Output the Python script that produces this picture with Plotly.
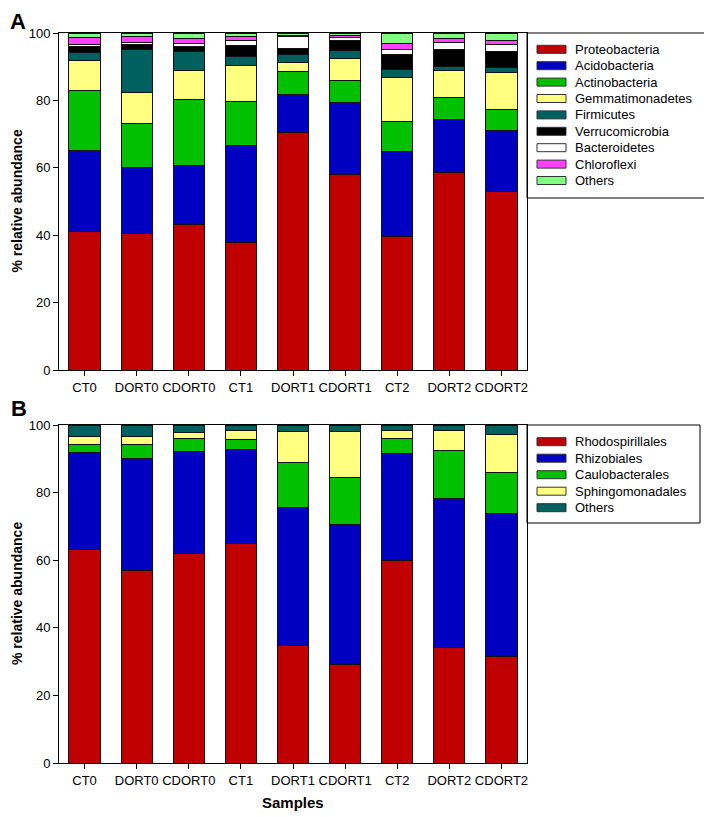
import plotly.graph_objects as go

samples = ["CT0", "DORT0", "CDORT0", "CT1", "DORT1", "CDORT1", "CT2", "DORT2", "CDORT2"]

# Panel A: phyla (% relative abundance)
proteobacteria   = [41.2, 40.5, 43.3, 37.8, 70.5, 58.1, 39.5, 58.7, 52.9]
acidobacteria    = [24.0, 19.5, 17.4, 28.8, 11.4, 21.3, 25.3, 15.6, 18.2]
actinobacteria   = [17.6, 13.2, 19.7, 13.2, 6.6, 6.4, 8.9, 6.7, 6.3]
gemmatimonadetes = [8.9, 9.1, 8.4, 10.5, 2.8, 6.7, 13.0, 7.8, 10.9]
firmicutes       = [2.6, 12.8, 5.7, 2.7, 2.2, 2.2, 2.6, 1.4, 1.4]
verrucomicrobia  = [1.6, 1.6, 1.6, 3.2, 1.8, 3.2, 4.2, 4.9, 4.8]
bacteroidetes    = [0.8, 0.4, 0.8, 1.7, 3.7, 0.7, 1.6, 2.0, 2.1]
chloroflexi      = [2.0, 2.0, 1.5, 1.2, 0.4, 0.8, 1.8, 1.3, 1.3]
others_a         = [1.3, 0.9, 1.6, 0.9, 0.6, 0.6, 3.1, 1.6, 2.1]

# Panel B: orders (% relative abundance)
rhodospirillales = [63.2, 57.1, 61.9, 64.9, 34.9, 29.0, 59.8, 34.3, 31.4]
rhizobiales      = [28.7, 33.0, 30.4, 27.9, 40.7, 41.7, 31.8, 44.0, 42.5]
caulobacterales  = [2.2, 4.2, 3.8, 3.0, 13.4, 13.9, 4.5, 14.2, 12.1]
sphingomonadales = [2.4, 2.2, 1.6, 2.7, 9.2, 13.4, 2.4, 6.0, 11.2]
others_b         = [3.5, 3.5, 2.3, 1.5, 1.8, 2.0, 1.5, 1.5, 2.8]

series_a = [
    ("Proteobacteria", proteobacteria, "#C00000"),
    ("Acidobacteria", acidobacteria, "#0000C0"),
    ("Actinobacteria", actinobacteria, "#00C000"),
    ("Gemmatimonadetes", gemmatimonadetes, "#FFFF80"),
    ("Firmicutes", firmicutes, "#006060"),
    ("Verrucomicrobia", verrucomicrobia, "#000000"),
    ("Bacteroidetes", bacteroidetes, "#FFFFFF"),
    ("Chloroflexi", chloroflexi, "#FF40FF"),
    ("Others", others_a, "#80FF80"),
]
series_b = [
    ("Rhodospirillales", rhodospirillales, "#C00000"),
    ("Rhizobiales", rhizobiales, "#0000C0"),
    ("Caulobacterales", caulobacterales, "#00C000"),
    ("Sphingomonadales", sphingomonadales, "#FFFF80"),
    ("Others", others_b, "#006060"),
]

OFF = 8  # page body margin
W, H = 712 - OFF, 817 - OFF
L, R, T, B = 59 - OFF, 1, 33 - OFF, 54
pw = W - L - R
ph = H - T - B


def px_x(p):
    return (p - OFF - L) / pw


def px_y(p):
    return (H - B - (p - OFF)) / ph


xend = px_x(527)
a_bottom = px_y(370)
b_top = px_y(425)

FONT = "Arial, Liberation Sans, sans-serif"

fig = go.Figure()
for name, vals, col in series_a:
    fig.add_trace(go.Bar(x=samples, y=vals, name=name,
                         marker=dict(color=col, line=dict(color="#111111", width=1)),
                         width=0.6, xaxis="x", yaxis="y", showlegend=False))
for name, vals, col in series_b:
    fig.add_trace(go.Bar(x=samples, y=vals, name=name,
                         marker=dict(color=col, line=dict(color="#111111", width=1)),
                         width=0.6, xaxis="x2", yaxis="y2", showlegend=False))

xcommon = dict(range=[-0.49, 8.49], showline=True, linecolor="black", linewidth=1, mirror=True,
               ticks="outside", ticklen=5, tickcolor="black",
               tickfont=dict(family=FONT, size=13, color="black"),
               showgrid=False, zeroline=False, domain=[0, xend], automargin=False)
ycommon = dict(range=[0, 100], dtick=20, showline=True, linecolor="black", linewidth=1, mirror=True,
               ticks="outside", ticklen=5, tickcolor="black",
               tickfont=dict(family=FONT, size=13, color="black"),
               showgrid=False, zeroline=False, automargin=False)

shapes = []
annotations = []


def add_legend(series, top_px, bottom_px, right_px, first_row_px, row_step):
    shapes.append(dict(type="rect", xref="paper", yref="paper", x0=xend, x1=px_x(right_px),
                       y0=px_y(bottom_px), y1=px_y(top_px), line=dict(color="black", width=1),
                       fillcolor="white", layer="below"))
    for i, (name, _, col) in enumerate(series):
        cy = first_row_px + i * row_step
        shapes.append(dict(type="rect", xref="paper", yref="paper", x0=px_x(537), x1=px_x(566),
                           y0=px_y(cy + 4), y1=px_y(cy - 4), fillcolor=col,
                           line=dict(color="#333333", width=1)))
        annotations.append(dict(text=name, x=px_x(573), y=px_y(cy), xref="paper", yref="paper",
                                xanchor="left", yanchor="middle", showarrow=False,
                                font=dict(family=FONT, size=13, color="black")))


add_legend(series_a, 33, 198, 707, 49.3, 16.4)
add_legend(series_b, 425, 523, 700, 441.7, 16.5)

annotations += [
    dict(text="<b>A</b>", x=px_x(9), y=px_y(OFF), xref="paper", yref="paper", xanchor="left",
         yanchor="top", showarrow=False, borderpad=0, font=dict(family=FONT, size=22, color="black")),
    dict(text="<b>B</b>", x=px_x(9), y=px_y(408), xref="paper", yref="paper", xanchor="left",
         yanchor="middle", showarrow=False, font=dict(family=FONT, size=22, color="black")),
    dict(text="<b>% relative abundance</b>", x=px_x(17), y=(a_bottom + 1) / 2, xref="paper", yref="paper",
         xanchor="center", yanchor="middle", textangle=-90, showarrow=False,
         font=dict(family=FONT, size=14, color="black")),
    dict(text="<b>% relative abundance</b>", x=px_x(17), y=b_top / 2, xref="paper", yref="paper",
         xanchor="center", yanchor="middle", textangle=-90, showarrow=False,
         font=dict(family=FONT, size=14, color="black")),
    dict(text="<b>Samples</b>", x=xend / 2, y=px_y(802), xref="paper", yref="paper",
         xanchor="center", yanchor="middle", showarrow=False,
         font=dict(family=FONT, size=15, color="black")),
]

fig.update_layout(
    width=W, height=H, barmode="stack", plot_bgcolor="white", paper_bgcolor="white",
    margin=dict(l=L, r=R, t=T, b=B, autoexpand=False),
    xaxis=dict(xcommon, anchor="y"),
    yaxis=dict(ycommon, domain=[a_bottom, 1], anchor="x"),
    xaxis2=dict(xcommon, anchor="y2"),
    yaxis2=dict(ycommon, domain=[0, b_top], anchor="x2"),
    shapes=shapes,
    annotations=annotations,
    showlegend=False,
)

fig.write_html("out.html")
